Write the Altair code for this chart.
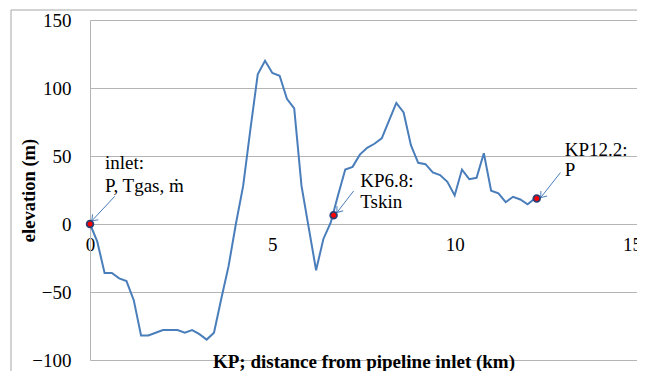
import math
import altair as alt
import pandas as pd

# ---- data ----
kp = [0.0, 0.2, 0.4, 0.6, 0.8, 1.0, 1.2, 1.4, 1.6, 1.8, 2.0, 2.2, 2.4, 2.6, 2.8, 3.0,
      3.2, 3.4, 3.6, 3.8, 4.0, 4.2, 4.4, 4.6, 4.8, 5.0, 5.2, 5.4, 5.6, 5.8, 6.0, 6.2,
      6.4, 6.6, 6.8, 7.0, 7.2, 7.4, 7.6, 7.8, 8.0, 8.2, 8.4, 8.6, 8.8, 9.0, 9.2, 9.4,
      9.6, 9.8, 10.0, 10.2, 10.4, 10.6, 10.8, 11.0, 11.2, 11.4, 11.6, 11.8, 12.0, 12.2]
elev = [0, -13, -36, -36, -40, -42, -56, -82, -82, -80, -78, -78, -78, -80, -78, -81,
        -85, -80, -55, -31, 0, 28, 70, 110, 120, 111, 109, 92, 85, 28, -3, -34,
        -11, 1, 21, 40, 42, 51, 56, 59, 63, 76, 89, 82, 58, 45, 44, 38,
        36, 31, 21, 40, 33, 34, 52, 24.5, 22.5, 16, 20, 18, 14.5, 18.7]

marker_kp = [0.0, 6.68, 12.25]
marker_elev = [0.0, 6.4, 18.7]

label_text = ["inlet:", "P, Tgas, \u1e41", "KP6.8:", "Tskin", "KP12.2:", "P"]
label_kp = [0.41, 0.41, 7.41, 7.41, 13.02, 13.02]
label_elev = [40.2, 23.7, 27.0, 11.5, 49.8, 35.0]

arrow_kp_from = [0.68, 7.23, 12.9]
arrow_elev_from = [20.4, 24.3, 37.8]
arrow_kp_to = [0.05, 6.77, 12.36]
arrow_elev_to = [2.3, 8.4, 19.4]

x_ticks = [0, 5, 10, 15]
y_ticks = [-100, -50, 0, 50, 100, 150]
X_MIN, X_MAX = 0, 15
Y_MIN, Y_MAX = -100, 150

# ---- layout ----
W, H = 547, 340
PAD_L, PAD_T, PAD_R, PAD_B = 82, 12, 0, 11
px_km = W / (X_MAX - X_MIN)
px_m = H / (Y_MAX - Y_MIN)
ZERO_OFF = H * (0 - Y_MIN) / (Y_MAX - Y_MIN)
BLUE = "#4a7ebb"
FONT = "Liberation Serif"

line_df = pd.DataFrame({"kp": kp, "elev": elev})
marker_df = pd.DataFrame({"kp": marker_kp, "elev": marker_elev})
label_df = pd.DataFrame({"kp": label_kp, "elev": label_elev, "txt": label_text})
angles = [
    math.degrees(math.atan2(-(e1 - e0) * px_m, (k1 - k0) * px_km)) % 360
    for k0, e0, k1, e1 in zip(arrow_kp_from, arrow_elev_from, arrow_kp_to, arrow_elev_to)
]
arrow_df = pd.DataFrame({
    "kp0": arrow_kp_from, "e0": arrow_elev_from,
    "kp1": arrow_kp_to, "e1": arrow_elev_to, "ang": angles,
})

xscale = alt.Scale(domain=[X_MIN, X_MAX], nice=False)
yscale = alt.Scale(domain=[Y_MIN, Y_MAX], nice=False)

x_axis = alt.Axis(
    values=x_ticks, grid=False, domain=False, ticks=False, tickSize=0,
    offset=-ZERO_OFF, labelPadding=11, labelFlush=False, labelOverlap=False,
    labelOffset={"condition": {"test": f"datum.value == {X_MAX}", "value": -5}, "value": 0},
    labelFontSize=19, labelColor="black", labelFont=FONT,
    title="KP; distance from pipeline inlet (km)",
    titleFontSize=19, titleFontWeight="bold", titleFont=FONT, titleColor="black",
    titleX=W / 2, titleY=ZERO_OFF + 7,
    titleAlign="center", titleBaseline="alphabetic",
)
y_axis = alt.Axis(
    values=y_ticks, grid=True, gridColor="#b4b4b4", domainColor="#b4b4b4",
    ticks=False, tickSize=0, labelPadding=19, labelFontSize=19,
    labelFlush=False, labelOverlap=False,
    labelColor="black", labelFont=FONT,
    title="elevation (m)", titleFontSize=18.5, titleFontWeight="bold",
    titleFont=FONT, titleColor="black", titleX=-62, titleY=H / 2,
    titleAlign="center", titleBaseline="middle", titleAngle=-90,
)

border = alt.Chart(pd.DataFrame({"a": [0]})).mark_rect(
    fill="white", fillOpacity=0, stroke="#a6a6a6", strokeWidth=1
).encode(
    x=alt.value(-(PAD_L - 3)), x2=alt.value(W + PAD_R + 40),
    y=alt.value(-(PAD_T - 2)), y2=alt.value(H + PAD_B + 40)
)

line = alt.Chart(line_df).mark_line(color=BLUE, strokeWidth=2).encode(
    x=alt.X("kp:Q", scale=xscale, axis=x_axis),
    y=alt.Y("elev:Q", scale=yscale, axis=y_axis),
)

rules = alt.Chart(arrow_df).mark_rule(color=BLUE, strokeWidth=1).encode(
    x=alt.X("kp0:Q", scale=xscale), y=alt.Y("e0:Q", scale=yscale),
    x2="kp1:Q", y2="e1:Q",
)
heads = alt.Chart(arrow_df).mark_point(
    shape="M -1 -0.75 L 0 0 L -1 0.75", filled=False, stroke=BLUE,
    strokeWidth=1, size=110, opacity=1,
).encode(
    x=alt.X("kp1:Q", scale=xscale), y=alt.Y("e1:Q", scale=yscale),
    angle=alt.Angle("ang:Q", scale=None),
)

markers = alt.Chart(marker_df).mark_point(
    shape="circle", filled=True, fill="#ff0000", stroke="#2b3f73",
    strokeWidth=1.8, size=45, opacity=1,
).encode(x=alt.X("kp:Q", scale=xscale), y=alt.Y("elev:Q", scale=yscale))

labels = alt.Chart(label_df).mark_text(
    align="left", baseline="alphabetic", font=FONT, fontSize=19, color="black"
).encode(
    x=alt.X("kp:Q", scale=xscale), y=alt.Y("elev:Q", scale=yscale), text="txt:N"
)

chart = alt.layer(border, line, rules, heads, markers, labels).properties(
    width=W, height=H,
    autosize=alt.AutoSizeParams(type="none"),
    padding={"left": PAD_L, "top": PAD_T, "right": PAD_R, "bottom": PAD_B},
    background="white",
).configure_view(stroke=None)

chart.save("out.html", embed_options={"renderer": "svg", "actions": False})
